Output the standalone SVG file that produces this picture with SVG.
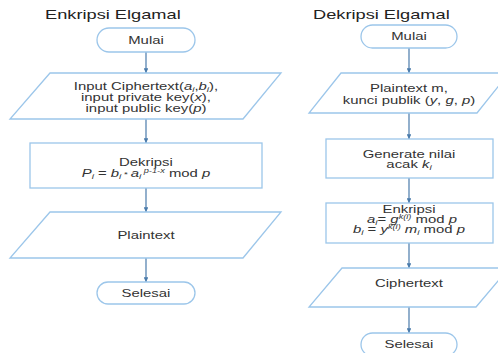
<svg xmlns="http://www.w3.org/2000/svg" width="498" height="353" viewBox="0 0 498 353">
<defs>
<style>
.s{fill:#fff;stroke:#9cc6ea;stroke-width:1.3}
.c{stroke:#4a7bab;stroke-width:1.2;fill:none}
text{font-family:"Liberation Sans",Arial,sans-serif;font-size:10.5px;fill:#333;text-anchor:middle}
.t{font-size:12px;fill:#222;text-anchor:start}
.i{font-style:italic}
.sub{font-size:7px;font-style:italic}
.sup{font-size:6.5px;font-style:italic}
</style>
<marker id="a" viewBox="0 0 10 10" refX="10" refY="5" markerWidth="4" markerHeight="4" orient="auto">
<path d="M0,0 L10,5 L0,10 z" fill="#4a7bab"/>
</marker>
</defs>
<rect width="498" height="353" fill="#fff"/>
<text class="t" x="45" y="19" transform="translate(-23.4,0) scale(1.52,1)">Enkripsi Elgamal</text>
<text class="t" x="313" y="19" transform="translate(-162.76,0) scale(1.52,1)">Dekripsi Elgamal</text>

<g id="connectors">
<line class="c" x1="146" y1="52" x2="146" y2="73" marker-end="url(#a)"/>
<line class="c" x1="146" y1="119" x2="146" y2="143" marker-end="url(#a)"/>
<line class="c" x1="146" y1="188" x2="146" y2="212" marker-end="url(#a)"/>
<line class="c" x1="146" y1="258" x2="146" y2="282" marker-end="url(#a)"/>
<line class="c" x1="409" y1="48" x2="409" y2="73" marker-end="url(#a)"/>
<line class="c" x1="409" y1="113" x2="409" y2="139" marker-end="url(#a)"/>
<line class="c" x1="409" y1="178" x2="409" y2="203" marker-end="url(#a)"/>
<line class="c" x1="409" y1="243" x2="409" y2="268" marker-end="url(#a)"/>
<line class="c" x1="409" y1="307" x2="409" y2="333" marker-end="url(#a)"/>
</g>

<g id="mulai1">
<rect class="s" x="97" y="28" width="98" height="24" rx="12"/>
<text x="146" y="44" transform="translate(-61.32,0) scale(1.42,1)">Mulai</text>
</g>
<g id="input1">
<polygon class="s" points="50,73 281,73 243,119 10,119"/>
<text x="146" y="90" transform="translate(-61.32,0) scale(1.42,1)">Input Ciphertext(<tspan class="i">a</tspan><tspan class="sub" dy="2">i</tspan><tspan dy="-2">,</tspan><tspan class="i">b</tspan><tspan class="sub" dy="2">i</tspan><tspan dy="-2">),</tspan></text>
<text x="146" y="101" transform="translate(-61.32,0) scale(1.42,1)">input private key(<tspan class="i">x</tspan>),</text>
<text x="146" y="112" transform="translate(-61.32,0) scale(1.42,1)">input public key(<tspan class="i">p</tspan>)</text>
</g>
<g id="dekripsi">
<rect class="s" x="30" y="143" width="232" height="45"/>
<text x="146" y="166" transform="translate(-61.32,0) scale(1.42,1)">Dekripsi</text>
<text x="146" y="177" transform="translate(-61.32,0) scale(1.42,1)"><tspan class="i">P</tspan><tspan class="sub" dy="2">i</tspan><tspan dy="-2"> = </tspan><tspan class="i">b</tspan><tspan class="sub" dy="2">i</tspan><tspan dy="-2" font-size="7"> * </tspan><tspan class="i">a</tspan><tspan class="sub" dy="2">i</tspan><tspan class="sup" dy="-6"> p-1-x</tspan><tspan dy="4">   mod </tspan><tspan class="i">p</tspan></text>
</g>
<g id="plaintext1">
<polygon class="s" points="50,212 281,212 243,258 10,258"/>
<text x="146" y="239" transform="translate(-61.32,0) scale(1.42,1)">Plaintext</text>
</g>
<g id="selesai1">
<rect class="s" x="97" y="282" width="98" height="22" rx="11"/>
<text x="146" y="297" transform="translate(-61.32,0) scale(1.42,1)">Selesai</text>
</g>

<g id="mulai2">
<rect class="s" x="361" y="25" width="96" height="23" rx="11.5"/>
<text x="409" y="40" transform="translate(-171.78,0) scale(1.42,1)">Mulai</text>
</g>
<g id="input2">
<polygon class="s" points="341,73 509,73 477,113 309,113"/>
<text x="409" y="92" transform="translate(-171.78,0) scale(1.42,1)">Plaintext m,</text>
<text x="409" y="104" transform="translate(-171.78,0) scale(1.42,1)">kunci publik (<tspan class="i">y</tspan>, <tspan class="i">g</tspan>, <tspan class="i">p</tspan>)</text>
</g>
<g id="generate">
<rect class="s" x="326" y="139" width="167" height="39"/>
<text x="409" y="158" transform="translate(-171.78,0) scale(1.42,1)">Generate nilai</text>
<text x="409" y="168" transform="translate(-171.78,0) scale(1.42,1)">acak <tspan class="i">k</tspan><tspan class="sub" dy="2">i</tspan></text>
</g>
<g id="enkripsi">
<rect class="s" x="326" y="203" width="167" height="40"/>
<text x="409" y="213.5" transform="translate(-171.78,0) scale(1.42,1)">Enkripsi</text>
<text x="412" y="223" transform="translate(-173.04,0) scale(1.42,1)"><tspan class="i">a</tspan><tspan class="sub" dy="2">i</tspan><tspan dy="-2">= </tspan><tspan class="i">g</tspan><tspan class="sup" dy="-3.5">k(i)</tspan><tspan dy="3.5"> mod </tspan><tspan class="i">p</tspan></text>
<text x="409" y="233" transform="translate(-171.78,0) scale(1.42,1)"><tspan class="i">b</tspan><tspan class="sub" dy="2">i</tspan><tspan dy="-2"> = </tspan><tspan class="i">y</tspan><tspan class="sup" dy="-3.5">k(i)</tspan><tspan dy="3.5"> </tspan><tspan class="i">m</tspan><tspan class="sub" dy="2">i</tspan><tspan dy="-2"> mod </tspan><tspan class="i">p</tspan></text>
</g>
<g id="ciphertext">
<polygon class="s" points="342,268 509,268 476,307 309,307"/>
<text x="409" y="287" transform="translate(-171.78,0) scale(1.42,1)">Ciphertext</text>
</g>
<g id="selesai2">
<rect class="s" x="361" y="333" width="96" height="23" rx="11.5"/>
<text x="409" y="348" transform="translate(-171.78,0) scale(1.42,1)">Selesai</text>
</g>
</svg>
